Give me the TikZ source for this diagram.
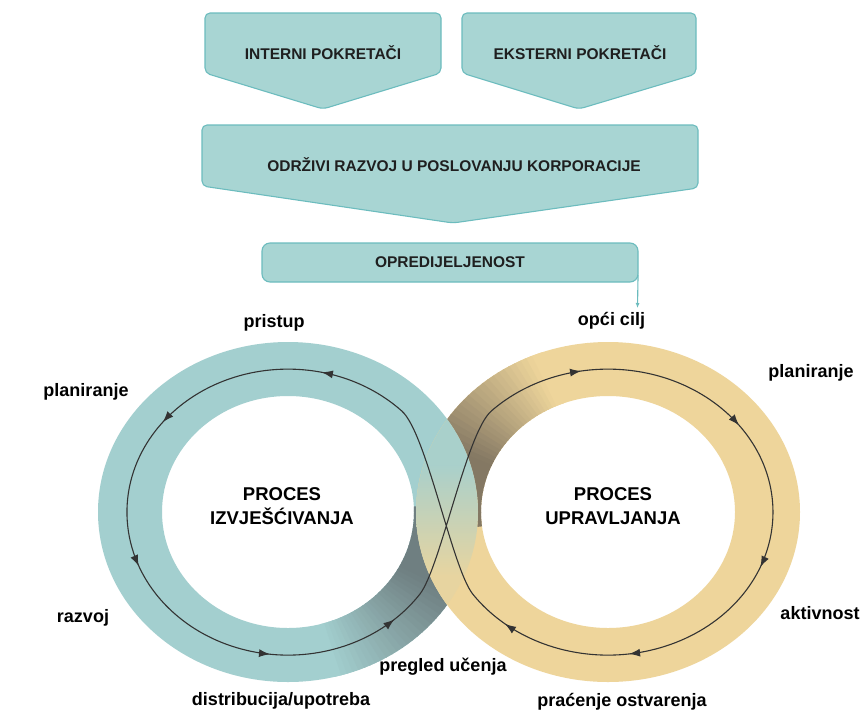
\documentclass[tikz,border=0pt]{standalone}
\usepackage{fontspec}
\setmainfont{Liberation Sans}
\usepackage{tikz}
\usetikzlibrary{positioning,arrows.meta,decorations.markings}

\definecolor{boxteal}{HTML}{A8D5D3}
\definecolor{boxline}{HTML}{6CBCBE}
\definecolor{ringteal}{HTML}{A3CFCF}
\definecolor{ringsand}{HTML}{EED59B}
\definecolor{darkteal}{HTML}{6F7F81}
\definecolor{darksand}{HTML}{847863}
\definecolor{midmix}{HTML}{C9D8BE}

\tikzset{pentabox/.style={draw=boxline, fill=boxteal, line width=1.1pt, rounded corners=5pt},
boxtext/.style={font=\bfseries\fontsize{15.5}{18}\selectfont, text=black!88},
steplabel/.style={font=\bfseries\fontsize{18}{20}\selectfont},
proctext/.style={font=\bfseries\fontsize{18.5}{23.5}\selectfont, align=center},
loophead/.tip={Latex[length=11pt,width=8pt]}
}

\begin{document}
\begin{tikzpicture}[x=1pt, y=-1pt]
      \useasboundingbox (0,0) rectangle (862,713);
      \fill[white] (0,0) rectangle (862,713);

      % pokretaci
      \draw[pentabox] (205,13) -- (441,13) -- (441,73) -- (323,109) -- (205,73) -- cycle;
      \draw[pentabox] (462,13) -- (696,13) -- (696,74) -- (579,109) -- (462,73) -- cycle;
      \draw[pentabox] (202,125) -- (698,125) -- (698,188) -- (453,223) -- (202,186) -- cycle;
      \node[boxtext] (b_int) at (323,53)  {INTERNI POKRETAČI};
      \node[boxtext] (b_ext) at (580,53)  {EKSTERNI POKRETAČI};
      \node[boxtext] (b_odr) at (454,165) {ODRŽIVI RAZVOJ U POSLOVANJU KORPORACIJE};
      \node[boxtext, draw=boxline, fill=boxteal, line width=1.1pt, rounded corners=8pt,
            minimum width=376pt, minimum height=39pt] (b_opr) at (450,262.5) {OPREDIJELJENOST};
      \coordinate (cilj) at (637.5,308);
      \draw[boxline, line width=1.1pt, -{Latex[length=5pt,width=4pt]}]
            ([xshift=-0.5pt, yshift=8pt]b_opr.south east) -- (cilj);

      % prsten lijevo
      \fill[ringteal, even odd rule] (288,512) ellipse [x radius=190, y radius=170]
                                     (288,512) ellipse [x radius=126, y radius=116];
      \begin{scope}[even odd rule]
        \clip (288,512) ellipse [x radius=190, y radius=170]
              (288,512) ellipse [x radius=126, y radius=116];
        \clip (0,0) rectangle (862,713)
              (608,512) ellipse [x radius=192, y radius=170];
        \foreach \a in {-74,-72,...,0} {
          \pgfmathtruncatemacro{\p}{max(0,min(100,100*(\a+27)/(-47)))}
          \fill[ringteal!\p!darkteal] (288,512) -- ({288+230*cos(\a)},{512-230*sin(\a)})
               -- ({288+230*cos(\a+2.5)},{512-230*sin(\a+2.5)}) -- cycle;
        }
      \end{scope}

      % prsten desno
      \fill[ringsand, even odd rule] (608,512) ellipse [x radius=192, y radius=170]
                                     (608,512) ellipse [x radius=127, y radius=116];
      \begin{scope}[even odd rule]
        \clip (608,512) ellipse [x radius=192, y radius=170]
              (608,512) ellipse [x radius=127, y radius=116];
        \clip (0,0) rectangle (862,713)
              (288,512) ellipse [x radius=190, y radius=170];
        \foreach \a in {112,114,...,184} {
          \pgfmathtruncatemacro{\p}{max(0,min(100,100*(157-\a)/42))}
          \fill[ringsand!\p!darksand] (608,512) -- ({608+230*cos(\a)},{512-230*sin(\a)})
               -- ({608+230*cos(\a+2.5)},{512-230*sin(\a+2.5)}) -- cycle;
        }
      \end{scope}

      % preklop
      \begin{scope}[even odd rule]
        \clip (288,512) ellipse [x radius=190, y radius=170]
              (288,512) ellipse [x radius=126, y radius=116];
        \clip (608,512) ellipse [x radius=192, y radius=170]
              (608,512) ellipse [x radius=127, y radius=116];
        \fill[ringteal!92!ringsand] (380,320) rectangle (520,465);
        \shade[top color=ringteal!92!ringsand, middle color=midmix, bottom color=ringsand!90!ringteal]
              (380,465) rectangle (520,575);
        \fill[ringsand!90!ringteal] (380,575) rectangle (520,700);
      \end{scope}

      % osmica
      \draw[black!80, line width=1.1pt,
            postaction={decorate, decoration={markings,
              mark=at position 0.047 with {\arrow{loophead}},
              mark=at position 0.138 with {\arrow{loophead}},
              mark=at position 0.219 with {\arrow{loophead}},
              mark=at position 0.3055 with {\arrow{loophead}},
              mark=at position 0.3747 with {\arrow{loophead}},
              mark=at position 0.549 with {\arrow{loophead}},
              mark=at position 0.640 with {\arrow{loophead}},
              mark=at position 0.7196 with {\arrow{loophead}},
              mark=at position 0.8055 with {\arrow{loophead}},
              mark=at position 0.8737 with {\arrow{loophead}}}}]
        (401.8,411) arc [start angle=-45, end angle=-325, x radius=161, y radius=143]
        .. controls (440.3,568.1) and (466.4,432.6) .. (491.3,411)
        arc [start angle=-135, end angle=145, x radius=165, y radius=143]
        .. controls (452.1,568.3) and (426.5,432.9) .. (401.8,411) -- cycle;

      % oznake
      \node[proctext] (p_izv) at (282,506) {PROCES\\IZVJEŠĆIVANJA};
      \node[proctext] (p_upr) at (613,506) {PROCES\\UPRAVLJANJA};
      \node[steplabel] (l_pristup) at (274,323) {pristup};
      \node[steplabel] (l_plan)    at (86,392)  {planiranje};
      \node[steplabel] (l_razvoj)  at (83,618)  {razvoj};
      \node[steplabel] (l_distr)   at (281,701) {distribucija/upotreba};
      \node[steplabel] (l_pregled) at (443,667) {pregled učenja};
      \node[steplabel, below=1pt of cilj, xshift=-26pt] (l_cilj) {opći cilj};
      \node[steplabel] (l_plan2)   at (811,373) {planiranje};
      \node[steplabel] (l_aktiv)   at (820,613) {aktivnost};
      \node[steplabel] (l_pracenje) at (622,702) {praćenje ostvarenja};
\end{tikzpicture}
\end{document}
